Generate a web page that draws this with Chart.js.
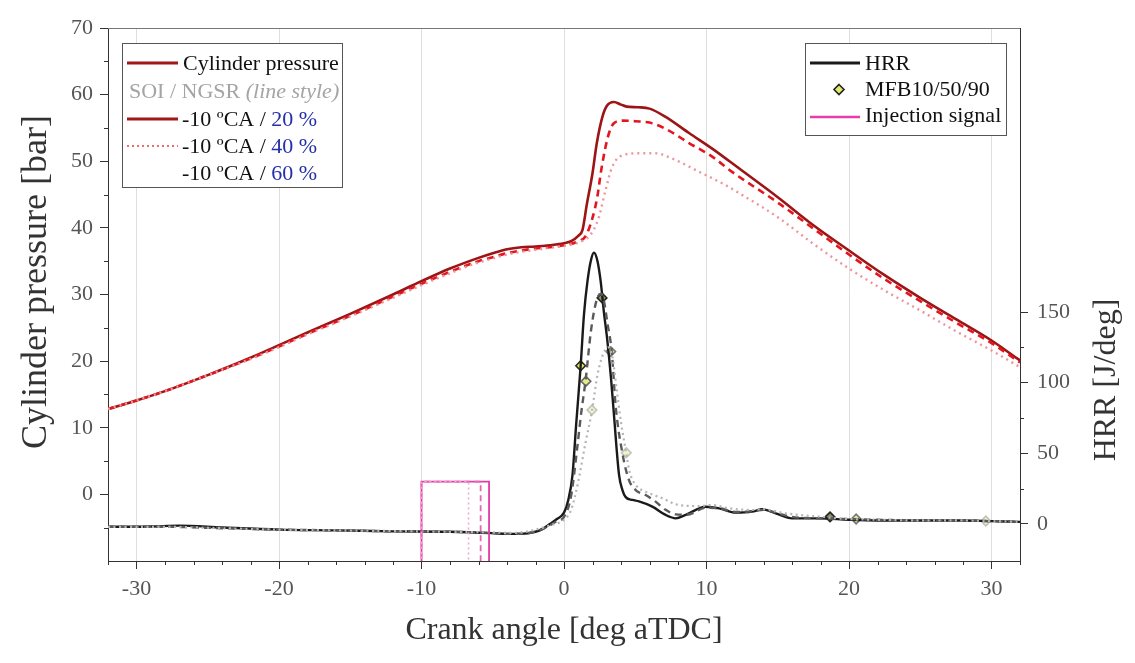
<!DOCTYPE html>
<html><head><meta charset="utf-8">
<script src="https://cdn.jsdelivr.net/npm/chart.js@4.4.1/dist/chart.umd.min.js"></script>
<style>html,body{margin:0;padding:0;background:#fff;}canvas{display:block;}</style>
</head><body>
<canvas id="c" width="1135" height="663"></canvas>
<script>
// ---------- DATA ----------
const caP20 = [-32,-30,-28,-25,-22,-20,-18,-15,-12,-10,-8,-6,-5,-4,-3,-2,-1,0,0.5,1.0,1.3,1.6,2.0,2.3,2.7,3.0,3.5,4.0,4.4,5.2,6.0,7.1,8.8,10.4,12.3,15,17.5,20,22.5,25,27.5,30,32];
const pres20 = [12.8,14.1,15.5,17.9,20.5,22.4,24.3,27.1,30.0,32.0,33.9,35.5,36.2,36.8,37.1,37.2,37.4,37.7,38.0,38.8,39.7,43.5,48.2,52.7,56.7,58.3,58.9,58.5,58.2,58.1,57.9,56.7,54.2,51.9,48.9,44.6,40.4,36.6,32.9,29.5,26.3,23.1,20.1];
const caP40 = [-32,-30,-28,-25,-22,-20,-18,-15,-12,-10,-8,-6,-5,-4,-3,-2,-1,0,0.5,1.0,1.5,2.0,2.34,2.6,2.92,3.2,3.5,4.1,5.0,6.0,7.1,8.8,10.4,11.8,15,17.5,20,22.5,25,27.5,30,32];
const pres40 = [12.8,14.1,15.5,17.9,20.4,22.2,24.1,26.8,29.7,31.6,33.4,35.0,35.6,36.2,36.6,36.9,37.1,37.4,37.6,38.0,38.7,41.5,44.7,48.5,52.2,54.5,55.7,56.1,56.0,55.8,54.9,52.7,50.7,48.4,43.8,39.9,36.0,32.3,29.0,25.8,22.7,19.8];
const caP60 = [-32,-30,-28,-25,-22,-20,-18,-15,-12,-10,-8,-6,-5,-4,-3,-2,-1,0,0.5,1.0,1.75,2.1,2.46,2.92,3.39,4.1,5.3,6.4,7.6,9.5,11.35,12.3,15,17.5,20,22.5,25,27.5,30,32];
const pres60 = [12.8,14.1,15.5,17.9,20.3,22.1,24.0,26.7,29.5,31.4,33.2,34.8,35.4,36.0,36.4,36.7,37.0,37.3,37.5,37.8,38.7,39.8,41.7,45.7,49.2,50.9,51.2,51.2,50.4,48.4,46.4,45.2,41.6,37.6,33.9,30.6,27.6,24.5,21.6,19.1];

const caH20 = [-32,-29,-27,-24,-20,-16,-12,-8,-5,-4,-3,-2,-1.5,-1,-0.5,0,0.3,0.6,0.85,1.17,1.4,1.65,1.9,2.1,2.35,2.57,2.8,3.04,3.3,3.5,3.86,4.1,4.33,4.8,5.26,6.2,7.13,7.84,8.54,9.94,10.9,12.05,13.2,13.9,14.86,16,17.9,20,22,25,28,30,32];
const hrr20 = [-2,-1.8,-1.2,-2.5,-4,-4.5,-5.2,-5.5,-6.5,-7,-7,-5.5,-3.5,0,3.5,8,17,35,70,112,148,172,187,192,186,172,150,130,103,78,35,24,19,17,16,12.3,6.4,4,6.4,12.2,11,8,8.7,10.4,7.5,4,4,3,2.5,2.5,2.5,2,1.5];
const caH40 = [-32,-28,-24,-20,-16,-12,-8,-5,-4,-3,-2,-1,-0.5,0,0.5,0.94,1.2,1.52,1.87,2.1,2.34,2.6,2.8,3.05,3.35,3.63,4.1,4.56,5.03,5.73,6.43,7.13,7.84,8.6,10,11,12,13.2,14,15,16,18,20,22,25,28,30,32];
const hrr40 = [-2,-2,-3,-4,-4.5,-5.2,-5.5,-6.5,-7,-6.8,-5.5,-1,2,5,20,55,78,102,135,150,160,163,158,142,122,83,50,31,24,20.5,15.8,10,6.8,6.5,11.5,11,8.5,9,10,7.5,5,4,3.5,3,2.5,2.5,2,1.5];
const caH60 = [-32,-28,-24,-20,-16,-12,-8,-5,-4,-3,-2,-1,0,0.5,1,1.5,1.96,2.34,2.7,3.1,3.4,3.7,4.0,4.37,4.6,5.03,5.73,6.9,8.07,9.47,10.4,11.58,13.2,13.9,15.56,17.9,20,22,25,28,30,32];
const hrr60 = [-2,-2,-3,-4,-4.5,-5,-5.5,-6,-6.3,-6,-4,-1,3,10,30,57,80,105,119,125,118,95,72,50,37,27.6,22.9,18.2,13.4,12.7,13.4,11.1,9.9,10.5,7.5,5.2,3.5,3,2.5,2.5,2,1.5];

// MFB10 / MFB50 / MFB90 markers
const mfbCA20 = [1.17, 2.67, 18.67];
const mfbHRR20 = [112, 160, 5];
const mfbCA40 = [1.54, 3.28, 20.5];
const mfbHRR40 = [101, 122, 3.5];
const mfbCA60 = [1.96, 4.37, 29.6];
const mfbHRR60 = [80.7, 50.4, 2.1];

// Injection signal (start, end per case, signal level on HRR axis)
const injStart = -10;
const injEnd = [-5.26, -5.85, -6.7];
const injLevel = 30;
const injBase = -60;

// Axis ticks
const xTicks = [-30,-20,-10,0,10,20,30];
const yTicks = [0,10,20,30,40,50,60,70];
const y2Ticks = [0,50,100,150];
const xMinor = [-32,-28,-26,-24,-22,-18,-16,-14,-12,-8,-6,-4,-2,2,4,6,8,12,14,16,18,22,24,26,28,32];
const yMinor = [-5,5,15,25,35,45,55,65];
const y2Minor = [25,75,125];

// ---------- STYLE ----------
const SERIF = '"Liberation Serif", "Times New Roman", serif';
const pts = (xs, ys) => xs.map((x, i) => ({x, y: ys[i]}));
const inj = (end) => [{x: injStart, y: injBase}, {x: injStart, y: injLevel}, {x: end, y: injLevel}, {x: end, y: injBase}];

function line(data, axis, color, width, dash, extra) {
  return Object.assign({
    data, yAxisID: axis, borderColor: color, borderWidth: width, borderDash: dash,
    pointRadius: 0, fill: false, cubicInterpolationMode: 'monotone', tension: 0.4
  }, extra || {});
}
function markers(xs, ys, fills, borders) {
  return {
    data: pts(xs, ys), yAxisID: 'y2', showLine: false, pointStyle: 'rectRot',
    pointRadius: 4.8, pointBorderWidth: 1.6,
    pointBackgroundColor: fills, pointBorderColor: borders, borderColor: 'transparent'
  };
}

const datasets = [
  line(inj(injEnd[2]), 'y2', '#f2a6d2', 1.6, [2,3], {tension: 0, cubicInterpolationMode: 'default'}),
  line(inj(injEnd[1]), 'y2', '#e565b5', 1.8, [6,4], {tension: 0, cubicInterpolationMode: 'default'}),
  line(inj(injEnd[0]), 'y2', '#e33aa6', 1.8, [], {tension: 0, cubicInterpolationMode: 'default'}),
  line(pts(caH60, hrr60), 'y2', '#b4b4b4', 2.2, [2,3.5]),
  line(pts(caH40, hrr40), 'y2', '#5a5a5a', 2.4, [7,5]),
  line(pts(caH20, hrr20), 'y2', '#1a1a1a', 2.4, []),
  line(pts(caP60, pres60), 'y', '#ee959b', 2.4, [2,4]),
  line(pts(caP40, pres40), 'y', '#e3161f', 2.6, [7,5]),
  line(pts(caP20, pres20), 'y', '#9c1414', 2.6, []),
  markers(mfbCA60, mfbHRR60, ['#eff3cf','#eff3cf','#eff3cf'], ['#c2c2b8','#c2c2b8','#c2c2b8']),
  markers(mfbCA40, mfbHRR40, ['#e4ec86','#dfe7a0','#e2ea8e'], ['#666','#777','#777']),
  markers(mfbCA20, mfbHRR20, ['#e0ea58','#8f9560','#858c5c'], ['#2a2a2a','#222','#222'])
];

// ---------- PLUGIN: minor ticks, frame, y titles, legends ----------
const decor = {
  id: 'decor',
  afterDraw(chart) {
    const ctx = chart.ctx, a = chart.chartArea;
    const sx = chart.scales.x, sy = chart.scales.y, sy2 = chart.scales.y2;
    ctx.save();
    // top frame line
    ctx.strokeStyle = '#777'; ctx.lineWidth = 1;
    ctx.beginPath(); ctx.moveTo(a.left, a.top + 0.5); ctx.lineTo(a.right, a.top + 0.5); ctx.stroke();
    // minor ticks
    ctx.strokeStyle = '#333'; ctx.lineWidth = 1;
    ctx.beginPath();
    xMinor.forEach(v => { const px = Math.round(sx.getPixelForValue(v)) + 0.5; ctx.moveTo(px, a.bottom); ctx.lineTo(px, a.bottom + 4); });
    yMinor.forEach(v => { const py = Math.round(sy.getPixelForValue(v)) + 0.5; ctx.moveTo(a.left, py); ctx.lineTo(a.left - 4, py); });
    y2Minor.forEach(v => { const py = Math.round(sy2.getPixelForValue(v)) + 0.5; ctx.moveTo(a.right, py); ctx.lineTo(a.right + 4, py); });
    ctx.stroke();

    // y axis titles (rotated, reading bottom to top)
    ctx.fillStyle = '#333';
    ctx.textAlign = 'center'; ctx.textBaseline = 'middle';
    ctx.font = '36px ' + SERIF;
    ctx.save(); ctx.translate(37, 282); ctx.rotate(-Math.PI / 2); ctx.fillText('Cylinder pressure [bar]', 0, 0); ctx.restore();
    ctx.font = '32px ' + SERIF;
    ctx.save(); ctx.translate(1107, 380); ctx.rotate(-Math.PI / 2); ctx.fillText('HRR [J/deg]', 0, 0); ctx.restore();

    // ---- left legend ----
    ctx.textAlign = 'left'; ctx.textBaseline = 'middle';
    ctx.fillStyle = '#fff'; ctx.strokeStyle = '#555'; ctx.lineWidth = 1;
    ctx.fillRect(122.5, 43.5, 220, 144); ctx.strokeRect(122.5, 43.5, 220, 144);
    const seg = (x1, x2, y, col, w, dash) => {
      ctx.save(); ctx.strokeStyle = col; ctx.lineWidth = w; ctx.setLineDash(dash);
      ctx.beginPath(); ctx.moveTo(x1, y); ctx.lineTo(x2, y); ctx.stroke(); ctx.restore();
    };
    const f = '22px ' + SERIF;
    seg(127, 178, 63, '#a01818', 3, []);
    ctx.font = f; ctx.fillStyle = '#111'; ctx.fillText('Cylinder pressure', 183, 64);
    ctx.fillStyle = '#a4a4a4'; ctx.fillText('SOI / NGSR ', 129, 92);
    let w = ctx.measureText('SOI / NGSR ').width;
    ctx.font = 'italic 22px ' + SERIF; ctx.fillText('(line style)', 129 + w, 92);
    const rows = [{y: 119, p: '20 %'}, {y: 146, p: '40 %'}, {y: 173, p: '60 %'}];
    seg(127, 178, 119, '#a01818', 3, []);
    seg(127, 178, 146, '#f06a72', 2, [2, 3]);
    ctx.font = f;
    rows.forEach(r => {
      ctx.fillStyle = '#111'; ctx.fillText('-10 ºCA / ', 182, r.y + 1);
      const ww = ctx.measureText('-10 ºCA / ').width;
      ctx.fillStyle = '#2430a8'; ctx.fillText(r.p, 182 + ww, r.y + 1);
    });

    // ---- right legend ----
    ctx.fillStyle = '#fff'; ctx.strokeStyle = '#555'; ctx.lineWidth = 1;
    ctx.fillRect(805.5, 43.5, 201, 92); ctx.strokeRect(805.5, 43.5, 201, 92);
    seg(810, 860, 63, '#1a1a1a', 3, []);
    ctx.font = f; ctx.fillStyle = '#111'; ctx.fillText('HRR', 865, 64);
    ctx.save(); ctx.translate(839, 89.5); ctx.beginPath();
    ctx.moveTo(0, -5); ctx.lineTo(5, 0); ctx.lineTo(0, 5); ctx.lineTo(-5, 0); ctx.closePath();
    ctx.fillStyle = '#e3ec6a'; ctx.fill(); ctx.strokeStyle = '#222'; ctx.lineWidth = 1.6; ctx.stroke(); ctx.restore();
    ctx.fillStyle = '#111'; ctx.fillText('MFB10/50/90', 865, 90);
    seg(810, 860, 117, '#e83ca8', 2.5, []);
    ctx.fillStyle = '#111'; ctx.fillText('Injection signal', 865, 116);
    ctx.restore();
  }
};

Chart.defaults.font.family = SERIF;
new Chart(document.getElementById('c'), {
  type: 'line',
  data: { datasets },
  plugins: [decor],
  options: {
    responsive: false, animation: false, devicePixelRatio: 1,
    layout: { padding: { top: 28, left: 0, right: 0, bottom: 0 } },
    plugins: { legend: { display: false }, tooltip: { enabled: false } },
    scales: {
      x: {
        type: 'linear', position: 'bottom', min: -32, max: 32,
        afterBuildTicks: s => { s.ticks = xTicks.map(v => ({value: v})); },
        afterFit: s => { s.height = 102; },
        grid: { color: '#dedede', lineWidth: 1, tickColor: '#333', tickLength: 8, drawOnChartArea: true },
        border: { color: '#333', width: 1 },
        ticks: { font: { size: 22 }, color: '#555', padding: 7, maxRotation: 0 },
        title: { display: true, text: 'Crank angle [deg aTDC]', font: { size: 32 }, color: '#333', padding: { top: 0, bottom: 13 } }
      },
      y: {
        type: 'linear', position: 'left', min: -10, max: 70,
        afterBuildTicks: s => { s.ticks = yTicks.map(v => ({value: v})); },
        afterFit: s => { s.width = 108; },
        grid: { drawOnChartArea: false, tickColor: '#333', tickLength: 8 },
        border: { color: '#333', width: 1 },
        ticks: { font: { size: 22 }, color: '#555', padding: 7 }
      },
      y2: {
        type: 'linear', position: 'right', min: -26.2, max: 351,
        afterBuildTicks: s => { s.ticks = y2Ticks.map(v => ({value: v})); },
        afterFit: s => { s.width = 115; },
        grid: { drawOnChartArea: false, tickColor: '#333', tickLength: 8 },
        border: { color: '#333', width: 1 },
        ticks: { font: { size: 22 }, color: '#555', padding: 9 }
      }
    }
  }
});
</script>
</body></html>
